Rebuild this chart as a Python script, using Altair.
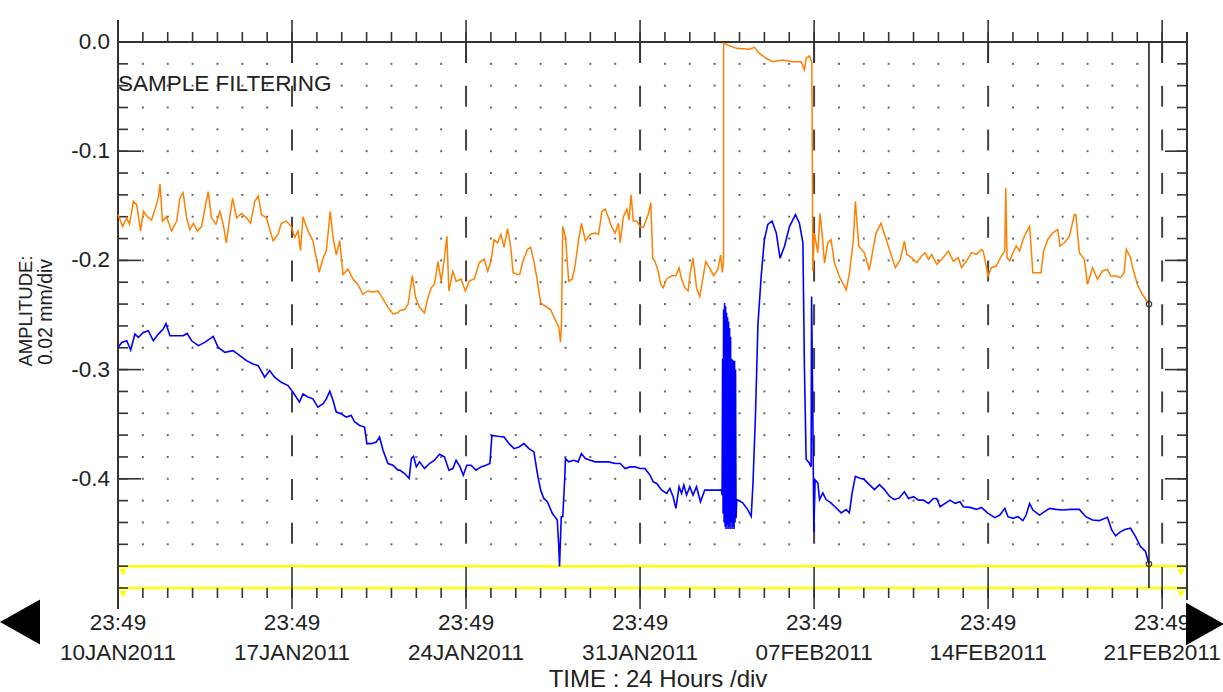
import altair as alt
import pandas as pd

# Time axis: days elapsed since 10JAN2011 23:49; amplitude in mm.
orange_day = [
    0, 0.19, 0.35, 0.46, 0.62, 0.75, 0.91, 1.02, 1.18, 1.35, 1.49, 1.62, 1.69, 1.79, 1.95,
    2.16, 2.36, 2.49, 2.62, 2.76, 2.89, 3.03, 3.19, 3.36, 3.49, 3.63, 3.76, 3.94, 4.10, 4.23,
    4.36, 4.50, 4.61, 4.77, 4.97, 5.17, 5.33, 5.50, 5.64, 5.77, 5.97, 6.24, 6.44, 6.57, 6.77,
    6.97, 7.11, 7.24, 7.34, 7.44, 7.64, 7.84, 8.09, 8.25, 8.38, 8.54, 8.65, 8.78, 8.92, 9.05,
    9.25, 9.45, 9.65, 9.85, 10.05, 10.25, 10.46, 10.63, 10.86, 11.06, 11.26,
    11.33, 11.53, 11.67, 11.84, 11.97, 12.13, 12.33, 12.47, 12.6, 12.73, 12.87, 13.0, 13.13,
    13.23, 13.31, 13.47, 13.6, 13.8, 13.97, 14.13, 14.33, 14.53, 14.73, 14.87, 15.0, 15.13,
    15.27, 15.4, 15.53, 15.67, 15.8, 15.89, 16.07, 16.16, 16.27, 16.47, 16.6, 16.73, 16.87,
    17.0, 17.2, 17.4, 17.6, 17.73, 17.8, 17.84, 17.89, 18.0, 18.13, 18.27, 18.37, 18.53,
    18.64, 18.8, 19.0, 19.2, 19.33, 19.47, 19.6, 19.73, 19.87, 20.0, 20.13, 20.2, 20.33,
    20.47, 20.56, 20.64, 20.73, 20.87, 21.0, 21.13,
    21.33, 21.43, 21.51, 21.6, 21.73, 21.83, 21.93, 22.07, 22.27, 22.44, 22.57, 22.67, 22.8,
    22.93, 23.03, 23.13, 23.27, 23.4, 23.53, 23.64, 23.8, 23.96, 24.13, 24.24, 24.31, 24.36,
    24.36, 24.87, 25.40, 25.60, 25.80, 26.07, 26.34, 26.74, 27.14, 27.48, 27.61, 27.68, 27.81,
    27.91, 27.95, 28.01, 28.15, 28.24, 28.32, 28.42, 28.55, 28.68, 28.82, 29.02, 29.29, 29.42,
    29.58, 29.66, 29.80, 30.02, 30.22, 30.49, 30.69, 30.90,
    31.27, 31.47, 31.63, 31.73, 31.93, 32.13, 32.33, 32.47, 32.6, 32.73, 32.93, 33.13, 33.4,
    33.6, 33.8, 33.93, 34.13, 34.33, 34.53, 34.73, 34.8, 34.91, 35.0, 35.13, 35.33, 35.53,
    35.67, 35.71, 35.76, 35.87, 36.0, 36.13, 36.27, 36.4, 36.56, 36.67, 36.8, 37.0, 37.13,
    37.23, 37.4, 37.6, 37.8, 37.89, 38.07, 38.27, 38.47, 38.53, 38.67, 38.87, 39.0, 39.2,
    39.4, 39.6, 39.8, 39.93, 40.13, 40.33, 40.47, 40.56, 40.73, 40.8, 41.0, 41.2, 41.47,
]
orange_amp = [
    -0.158, -0.169, -0.161, -0.167, -0.146, -0.149, -0.173, -0.155, -0.160, -0.163, -0.153,
    -0.143, -0.130, -0.164, -0.160, -0.173, -0.164, -0.143, -0.138, -0.161, -0.172, -0.166,
    -0.173, -0.169, -0.153, -0.137, -0.161, -0.167, -0.155, -0.167, -0.184, -0.160, -0.143,
    -0.161, -0.157, -0.161, -0.166, -0.146, -0.141, -0.158, -0.161, -0.182, -0.176, -0.166,
    -0.164, -0.169, -0.179, -0.173, -0.191, -0.160, -0.173, -0.182, -0.211, -0.198, -0.191,
    -0.155, -0.179, -0.195, -0.182, -0.213, -0.208, -0.217, -0.222, -0.231, -0.228, -0.229,
    -0.228, -0.234, -0.243, -0.249, -0.248,
    -0.246, -0.245, -0.240, -0.214, -0.234, -0.243, -0.248, -0.234, -0.225, -0.222, -0.201,
    -0.219, -0.198, -0.178, -0.228, -0.210, -0.219, -0.217, -0.228, -0.219, -0.217, -0.202,
    -0.199, -0.210, -0.201, -0.181, -0.184, -0.176, -0.188, -0.171, -0.188, -0.211, -0.213,
    -0.213, -0.202, -0.190, -0.188, -0.201, -0.219, -0.239, -0.242, -0.245, -0.255, -0.261,
    -0.275, -0.258, -0.169, -0.179, -0.219, -0.217, -0.207, -0.181, -0.166, -0.182, -0.176,
    -0.175, -0.176, -0.155, -0.153, -0.161, -0.170, -0.175, -0.166, -0.184, -0.160, -0.153,
    -0.163, -0.140, -0.164, -0.164, -0.169, -0.170,
    -0.158, -0.147, -0.198, -0.201, -0.210, -0.222, -0.225, -0.217, -0.214, -0.214, -0.207,
    -0.217, -0.225, -0.228, -0.210, -0.198, -0.225, -0.233, -0.216, -0.201, -0.207, -0.214,
    -0.208, -0.195, -0.211, -0.200,
    -0.0012, -0.0058, -0.0067, -0.0049, -0.0104, -0.0149, -0.018, -0.0165, -0.018, -0.018,
    -0.0256, -0.0149, -0.0128, -0.018, -0.210, -0.175, -0.193, -0.157, -0.175, -0.2025,
    -0.184, -0.181, -0.2025, -0.215, -0.227, -0.212, -0.181, -0.146, -0.187, -0.193, -0.209,
    -0.175, -0.166, -0.181,
    -0.2067, -0.1991, -0.1824, -0.1945, -0.1976, -0.2021, -0.196, -0.193, -0.1991, -0.1945,
    -0.2036, -0.1991, -0.1915, -0.2006, -0.1976, -0.2067, -0.2006, -0.193, -0.1945, -0.19,
    -0.1915, -0.2036, -0.2143, -0.2067, -0.2052, -0.196, -0.1915, -0.1337, -0.1976, -0.2006,
    -0.193, -0.1869, -0.1915, -0.1808, -0.1732, -0.1687, -0.2112, -0.2112, -0.2112, -0.1915,
    -0.1808, -0.1748, -0.1717, -0.1869, -0.1839, -0.1778, -0.158, -0.158, -0.193, -0.1991,
    -0.2219, -0.2067, -0.2173, -0.2097, -0.2082, -0.2143, -0.2143, -0.2158, -0.2112, -0.19,
    -0.1976, -0.2052, -0.2219, -0.231, -0.240,
]

blue_day = [
    0, 0.15, 0.35, 0.51, 0.68, 0.82, 1.02, 1.22, 1.42, 1.62, 1.82, 1.93, 2.09, 2.36, 2.62,
    2.78, 2.96, 3.23, 3.49, 3.83, 4.03, 4.30, 4.63, 4.90, 5.17, 5.43, 5.64, 5.90, 6.10, 6.30,
    6.57, 6.84, 7.04, 7.30, 7.44, 7.64, 7.84, 8.04, 8.25, 8.38, 8.52, 8.65, 8.78, 8.98, 9.18,
    9.38, 9.52, 9.72, 9.92, 10.01, 10.19, 10.39, 10.52, 10.66, 10.86, 11.06, 11.26,
    11.33, 11.53, 11.71, 11.8, 11.89, 12.0, 12.13, 12.33, 12.53, 12.73, 12.93, 13.13, 13.31,
    13.47, 13.6, 13.76, 13.89, 14.03, 14.2, 14.4, 14.6, 14.8, 14.96, 15.04, 15.27, 15.53,
    15.73, 15.93, 16.13, 16.33, 16.53, 16.73, 16.87, 17.0, 17.13, 17.27, 17.47, 17.67, 17.73,
    17.76, 17.83, 17.89, 17.97, 18.0, 18.13, 18.33, 18.51, 18.64, 18.8, 19.0, 19.2, 19.47,
    19.73, 20.0, 20.2, 20.4, 20.6, 20.8, 21.0,
    21.2, 21.4, 21.53, 21.67, 21.87, 22.07, 22.2, 22.33, 22.44, 22.57, 22.67, 22.76, 22.87,
    23.0, 23.13, 23.27, 23.43, 23.6, 23.8, 24.07, 24.27,
    # rapid oscillation burst
    24.30, 24.32, 24.34, 24.36, 24.38, 24.40, 24.42, 24.44, 24.46, 24.48, 24.50, 24.52,
    24.54, 24.56, 24.58, 24.60, 24.62, 24.64, 24.66, 24.68, 24.70, 24.72, 24.74, 24.76,
    24.78, 24.80, 24.82, 24.84, 24.86, 24.89,
    25.13, 25.33, 25.47, 25.54, 25.64, 25.70, 25.74, 25.87, 26.0, 26.14, 26.31, 26.48, 26.63,
    26.81, 27.01, 27.25, 27.41, 27.55, 27.61, 27.68, 27.79, 27.88, 27.90, 27.95, 27.99, 28.04,
    28.15, 28.22, 28.35, 28.48, 28.68, 28.89, 29.09, 29.29, 29.42, 29.53, 29.66, 29.82, 30.02,
    30.22, 30.43, 30.63, 30.83, 31.03, 31.23, 31.43,
    31.63, 31.8, 32.0, 32.2, 32.4, 32.6, 32.8, 32.93, 33.07, 33.27, 33.47, 33.67, 33.87, 34.0,
    34.27, 34.53, 34.73, 35.0, 35.27, 35.47, 35.67, 35.8, 36.0, 36.2, 36.4, 36.53, 36.67,
    36.8, 37.07, 37.27, 37.47, 37.73, 38.0, 38.33, 38.67, 38.93, 39.2, 39.47, 39.8, 39.97,
    40.13, 40.33, 40.53, 40.73, 40.93, 41.13, 41.33, 41.47,
]
blue_amp = [
    -0.2797, -0.2751, -0.2736, -0.2821, -0.2675, -0.2705, -0.266, -0.2644, -0.2736, -0.2675,
    -0.2629, -0.2578, -0.269, -0.269, -0.269, -0.2669, -0.2736, -0.2781, -0.2751, -0.2696,
    -0.2797, -0.2842, -0.2827, -0.2872, -0.2918, -0.2948, -0.2964, -0.307, -0.3009, -0.307,
    -0.3116, -0.3146, -0.3207, -0.3298, -0.3222, -0.3252, -0.3268, -0.3344, -0.3313, -0.3268,
    -0.3198, -0.3283, -0.3389, -0.3404, -0.3435, -0.342, -0.348, -0.3511, -0.3526, -0.3678,
    -0.3678, -0.3663, -0.3617, -0.3739, -0.386, -0.3876, -0.3921,
    -0.3921, -0.3952, -0.3997, -0.3815, -0.3794, -0.3891, -0.3845, -0.3906, -0.386, -0.383,
    -0.3775, -0.3799, -0.3921, -0.3906, -0.383, -0.3891, -0.3967, -0.3876, -0.3876, -0.3921,
    -0.3891, -0.3876, -0.386, -0.3602, -0.3611, -0.3617, -0.3678, -0.3724, -0.3708, -0.3678,
    -0.3724, -0.3754, -0.3952, -0.4104, -0.418, -0.421, -0.4316, -0.4377, -0.462, -0.4803,
    -0.4347, -0.4347, -0.3997, -0.3815, -0.3845, -0.383, -0.3845, -0.3769, -0.3815, -0.383,
    -0.3845, -0.3845, -0.3845, -0.386, -0.386, -0.3906, -0.3891, -0.3891, -0.3906,
    -0.3906, -0.3967, -0.4028, -0.4043, -0.4104, -0.4134, -0.4088, -0.4164, -0.4271, -0.4073,
    -0.4134, -0.4058, -0.4149, -0.4073, -0.4149, -0.4073, -0.421, -0.4104, -0.4104, -0.4104,
    -0.4104,
    -0.415, -0.290, -0.432, -0.245, -0.440, -0.239, -0.444, -0.242, -0.446, -0.248, -0.442,
    -0.252, -0.446, -0.256, -0.444, -0.262, -0.446, -0.270, -0.440, -0.290, -0.446, -0.291,
    -0.444, -0.292, -0.446, -0.292, -0.440, -0.300, -0.436, -0.419,
    -0.422, -0.4282, -0.4343, -0.405, -0.343, -0.294, -0.259, -0.215, -0.181, -0.167, -0.164,
    -0.175, -0.198, -0.187, -0.169, -0.158, -0.166, -0.184, -0.297, -0.382, -0.385, -0.389,
    -0.233, -0.343, -0.449, -0.401, -0.4038, -0.419, -0.4129, -0.419, -0.422, -0.4267,
    -0.4312, -0.4282, -0.4312, -0.4129, -0.3977, -0.3992, -0.4007, -0.4053, -0.4099, -0.4053,
    -0.4099, -0.416, -0.419, -0.4175,
    -0.4119, -0.418, -0.4164, -0.4195, -0.4195, -0.4225, -0.418, -0.418, -0.4256, -0.4225,
    -0.4195, -0.4225, -0.421, -0.4256, -0.4262, -0.428, -0.4262, -0.4316, -0.4356, -0.4332,
    -0.4271, -0.4347, -0.4362, -0.4347, -0.4383, -0.4332, -0.4225, -0.4286, -0.4332, -0.4301,
    -0.4271, -0.428, -0.4286, -0.428, -0.428, -0.4347, -0.4377, -0.4383, -0.4353, -0.4468,
    -0.4523, -0.4484, -0.4462, -0.4453, -0.4529, -0.462, -0.4666, -0.478,
]

week_days = [0, 7, 14, 21, 28, 35, 42]
week_time = "23:49"
week_dates = ["10JAN2011", "17JAN2011", "24JAN2011", "31JAN2011",
              "07FEB2011", "14FEB2011", "21FEB2011"]
amp_major = [0.0, -0.1, -0.2, -0.3, -0.4]
amp_labels = ["0.0", "-0.1", "-0.2", "-0.3", "-0.4"]
gate_levels = [-0.48, -0.5]
cursor_day = 41.47
last_day = 43

ORANGE = "#FF8000"
BLUE = "#0000FF"
INK = "#222222"
FONT = "Liberation Sans"

W, H = 1069, 546
xs = alt.Scale(domain=[0, last_day], nice=False, zero=False)
ys = alt.Scale(domain=[-0.5, 0.0], nice=False, zero=False)


def X(field="day"):
    return alt.X(f"{field}:Q", scale=xs, axis=None)


def Y(field="amp"):
    return alt.Y(f"{field}:Q", scale=ys, axis=None)


one = pd.DataFrame({"k": [0]})
all_days = pd.DataFrame({"day": list(range(0, last_day + 1))})
weeks = pd.DataFrame({"day": week_days,
                      "label": [week_time + "\n" + d for d in week_dates]})
minor_amp = pd.DataFrame({"amp": [-k / 50 for k in range(0, 26)]})
major_amp = pd.DataFrame({"amp": amp_major, "label": amp_labels})

# dotted grid: one dot per day column and 0.02 mm row, skipping the weekly lines
dot_rows = []
for d in range(1, last_day):
    if d % 7 == 0:
        continue
    for k in range(1, 24):
        dot_rows.append({"day": d, "amp": -k / 50})
dots_df = pd.DataFrame(dot_rows)

orange_df = pd.DataFrame({"day": orange_day, "amp": orange_amp,
                          "i": range(len(orange_day))})
blue_df = pd.DataFrame({"day": blue_day, "amp": blue_amp,
                        "i": range(len(blue_day))})
cursor_df = pd.DataFrame({"day": [cursor_day, cursor_day],
                          "amp": [orange_amp[-1], blue_amp[-1]]})
gates = pd.DataFrame({"amp": gate_levels})

dots = alt.Chart(dots_df).mark_square(size=4, color="#555555", opacity=0.9).encode(
    x=X(), y=Y())

week_grid = alt.Chart(weeks[weeks.day > 0]).mark_rule(
    color="#444444", strokeWidth=2, strokeDash=[21, 22.7]).encode(
    x=X(), y=alt.value(0), y2=alt.value(525))

tick_style = dict(color="#333333", strokeWidth=1.6)
top_minor = alt.Chart(all_days).mark_rule(**tick_style).encode(
    x=X(), y=alt.value(-10), y2=alt.value(0))
top_major = alt.Chart(weeks).mark_rule(**tick_style).encode(
    x=X(), y=alt.value(-22), y2=alt.value(21))
bot_minor = alt.Chart(all_days).mark_rule(**tick_style).encode(
    x=X(), y=alt.value(H), y2=alt.value(H + 10))
bot_major = alt.Chart(weeks).mark_rule(**tick_style).encode(
    x=X(), y=alt.value(H - 21), y2=alt.value(H + 21))
left_minor = alt.Chart(minor_amp).mark_rule(**tick_style).encode(
    y=Y(), x=alt.value(0), x2=alt.value(10))
left_major = alt.Chart(major_amp).mark_rule(**tick_style).encode(
    y=Y(), x=alt.value(0), x2=alt.value(23))
right_minor = alt.Chart(minor_amp).mark_rule(**tick_style).encode(
    y=Y(), x=alt.value(W), x2=alt.value(W - 10))
right_major = alt.Chart(major_amp).mark_rule(**tick_style).encode(
    y=Y(), x=alt.value(W), x2=alt.value(W - 22))

frame_style = dict(color="#333333", strokeWidth=2)
top_line = alt.Chart(one).mark_rule(**frame_style).encode(
    x=alt.value(0), x2=alt.value(W), y=alt.value(0))
bottom_line = alt.Chart(one).mark_rule(**frame_style).encode(
    x=alt.value(0), x2=alt.value(W), y=alt.value(H))
left_line = alt.Chart(one).mark_rule(**frame_style).encode(
    x=alt.value(0), y=alt.value(-22), y2=alt.value(H + 21))
right_line = alt.Chart(one).mark_rule(**frame_style).encode(
    x=alt.value(W), y=alt.value(-10), y2=alt.value(H + 12))

gate_lines = alt.Chart(gates).mark_rule(color="#FFFF00", strokeWidth=2.5).encode(
    y=Y(), x=alt.value(0), x2=alt.value(W))
gate_left = alt.Chart(gates).mark_point(
    shape="triangle-down", filled=True, color="#FFFF00", opacity=1, size=60,
    yOffset=6).encode(y=Y(), x=alt.value(5))
gate_right = alt.Chart(gates).mark_point(
    shape="triangle-down", filled=True, color="#FFFF00", opacity=1, size=60,
    yOffset=6).encode(y=Y(), x=alt.value(W - 6))

orange_line = alt.Chart(orange_df).mark_line(color=ORANGE, strokeWidth=1.5).encode(
    x=X(), y=Y(), order="i:Q")
blue_line = alt.Chart(blue_df).mark_line(color=BLUE, strokeWidth=1.6).encode(
    x=X(), y=Y(), order="i:Q")

cursor = alt.Chart(pd.DataFrame({"day": [cursor_day]})).mark_rule(
    color="#222222", strokeWidth=1.6).encode(x=X(), y=alt.value(0), y2=alt.value(H))
cursor_marks = alt.Chart(cursor_df).mark_point(
    shape="circle", filled=False, color="#333333", size=30, strokeWidth=1.2,
    opacity=1).encode(x=X(), y=Y())

text_style = dict(font=FONT, fontSize=22.5, color=INK)
y_labels = alt.Chart(major_amp).mark_text(
    align="right", baseline="middle", **text_style).encode(
    y=Y(), x=alt.value(-8), text="label:N")
x_labels = alt.Chart(weeks).mark_text(
    align="center", baseline="top", lineBreak="\n", lineHeight=30,
    **text_style).encode(x=X(), y=alt.value(H + 24), text="label:N")
panel_title = alt.Chart(one).mark_text(
    align="left", baseline="middle", **text_style).encode(
    x=alt.value(0), y=alt.value(42), text=alt.value("SAMPLE FILTERING"))
x_title = alt.Chart(one).mark_text(
    align="center", baseline="middle", font=FONT, fontSize=24, color=INK).encode(
    x=alt.value(540), y=alt.value(638), text=alt.value("TIME : 24 Hours /div"))
y_title1 = alt.Chart(one).mark_text(
    align="center", baseline="middle", angle=270, font=FONT, fontSize=18.5,
    color=INK).encode(x=alt.value(-92), y=alt.value(269), text=alt.value("AMPLITUDE:"))
y_title2 = alt.Chart(one).mark_text(
    align="center", baseline="middle", angle=270, font=FONT, fontSize=19.5,
    color=INK).encode(x=alt.value(-72), y=alt.value(270), text=alt.value("0.02 mm/div"))

arrow_left = alt.Chart(one).mark_point(
    shape="M-1,0L1,-1.12L1,1.12Z", filled=True, color="#000000", opacity=1,
    size=1600).encode(x=alt.value(-98), y=alt.value(580))
arrow_right = alt.Chart(one).mark_point(
    shape="M1,0L-1,-1.12L-1,1.12Z", filled=True, color="#000000", opacity=1,
    size=1444).encode(x=alt.value(W + 18), y=alt.value(582))

chart = alt.layer(
    dots, week_grid, bottom_line, gate_lines,
    top_minor, top_major, bot_minor, bot_major,
    left_minor, left_major, right_minor, right_major,
    top_line, left_line, right_line,
    orange_line, blue_line, cursor, cursor_marks,
    gate_left, gate_right,
    y_labels, x_labels, panel_title, x_title, y_title1, y_title2,
    arrow_left, arrow_right,
).properties(
    width=W, height=H,
    autosize=alt.AutoSizeParams(type="none"),
    padding={"left": 118, "top": 42, "right": 36, "bottom": 104},
    background="#FFFFFF",
).configure_view(stroke=None)

chart.save("out.html", embed_options={"renderer": "svg", "actions": False})
